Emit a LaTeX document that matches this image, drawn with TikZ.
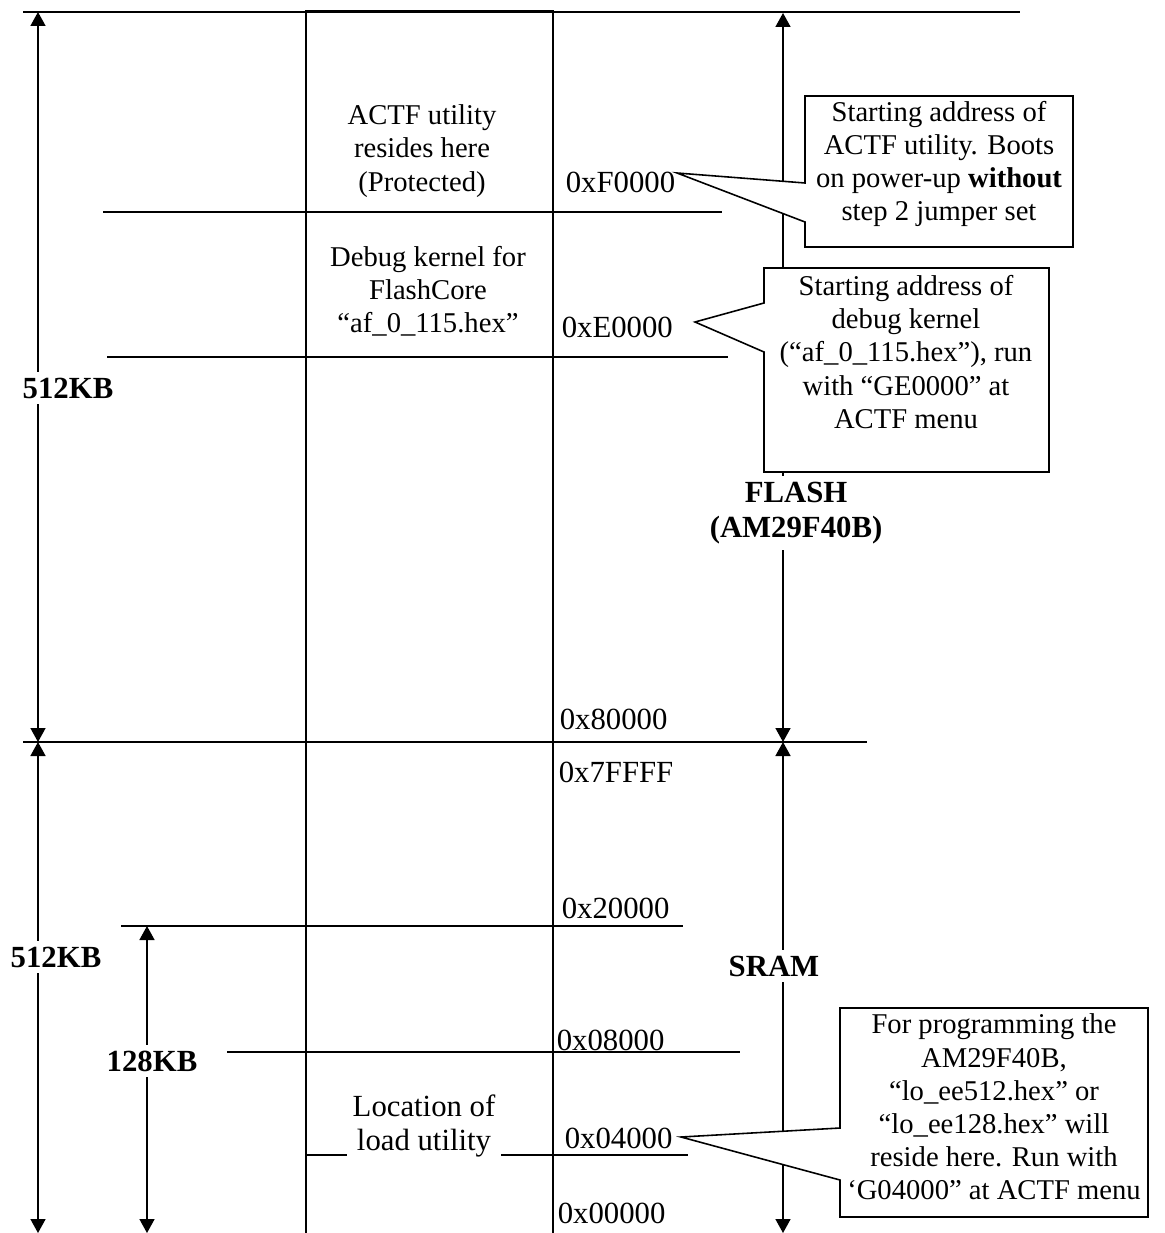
\documentclass[tikz,border=0pt]{standalone}
\usepackage{fontspec}
\setmainfont{Liberation Serif}
\usetikzlibrary{arrows.meta}

\tikzset{
  memtext/.style={font=\fontsize{16.3}{18.9}\selectfont, align=center},
  addr/.style={font=\fontsize{17.5}{20}\selectfont, anchor=west, inner sep=0pt},
  sizelabel/.style={font=\fontsize{17.5}{20}\selectfont\bfseries, fill=white, align=center},
  dimarrow/.style={{Triangle[width=0.3cm,length=0.28cm]}-{Triangle[width=0.3cm,length=0.28cm]}},
  callout/.style={draw, fill=white},
}

\begin{document}
\begin{tikzpicture}[x=0.02cm, y=-0.02cm, line width=0.9pt]
  \useasboundingbox (0,0) rectangle (1165,1233);

  % memory column and address lines
  \draw (306,1233) |- (553,11) -- (553,1233);
  \draw (23,12) -- (1020,12);
  \draw (103,212) -- (722,212);
  \draw (107,357) -- (728,357);
  \draw (23,742) -- (867,742);
  \draw (121,926) -- (683,926);
  \draw (227,1052) -- (740,1052);
  \draw (306,1155) -- (688,1155);

  % size arrows
  \draw[dimarrow] (38,12) -- (38,742);
  \draw[dimarrow] (38,742) -- (38,1233);
  \draw[dimarrow] (783,13) -- (783,742);
  \draw[dimarrow] (783,742) -- (783,1233);
  \draw[dimarrow] (147,926) -- (147,1233);

  \node[sizelabel] (flashsize) at (68,388) {512KB};
  \node[sizelabel] (sramsize) at (56,957) {512KB};
  \node[sizelabel] (loadsize) at (152,1061) {128KB};
  \node[sizelabel] (flash) at (796,513) {FLASH\\(AM29F40B)};
  \node[sizelabel] (sram) at (774,966) {SRAM};

  % regions
  \node[memtext] (actf) at (422,151) {ACTF utility\\resides here\\(Protected)};
  \node[memtext] (debug) at (428,291) {Debug kernel for\\FlashCore\\“af\_0\_115.hex”};
  \node[memtext, font=\fontsize{17.5}{19.2}\selectfont, fill=white] (loader) at (424,1126) {Location of\\load utility};

  % addresses
  \node[addr] (fzero) at (565,182) {0xF0000};
  \node[addr] (ezero) at (561,327) {0xE0000};
  \node[addr] (flashbase) at (559,719) {0x80000};
  \node[addr] (sramtop) at (558,772) {0x7FFFF};
  \node[addr] (twozero) at (561,908) {0x20000};
  \node[addr] (eightk) at (556,1040) {0x08000};
  \node[addr] (fourk) at (564,1138) {0x04000};
  \node[addr] (sramzero) at (557,1213) {0x00000};

  % callouts
  \coordinate (tipF) at (677,173);
  \coordinate (tipE) at (695,322);
  \coordinate (tipL) at (681,1137);

  \draw[callout] (805,183) |- (1073,96) |- (805,247) -- (805,222) -- (tipF) -- cycle;
  \node[memtext] (bootnote) at (939,164)
    {Starting address of\\ACTF utility. Boots\\on power-up \textbf{without}\\step 2 jumper set};

  \draw[callout] (764,303) |- (1049,268) |- (764,472) -- (764,352) -- (tipE) -- cycle;
  \node[memtext] (debugnote) at (906,352)
    {Starting address of\\debug kernel\\(“af\_0\_115.hex”), run\\with “GE0000” at\\ACTF menu};

  \draw[callout] (840,1128) |- (1148,1008) |- (840,1217) -- (840,1180) -- (tipL) -- cycle;
  \node[memtext] (loadnote) at (994,1107)
    {For programming the\\AM29F40B,\\“lo\_ee512.hex” or\\“lo\_ee128.hex” will\\reside here. Run with\\‘G04000” at ACTF menu};
\end{tikzpicture}
\end{document}
